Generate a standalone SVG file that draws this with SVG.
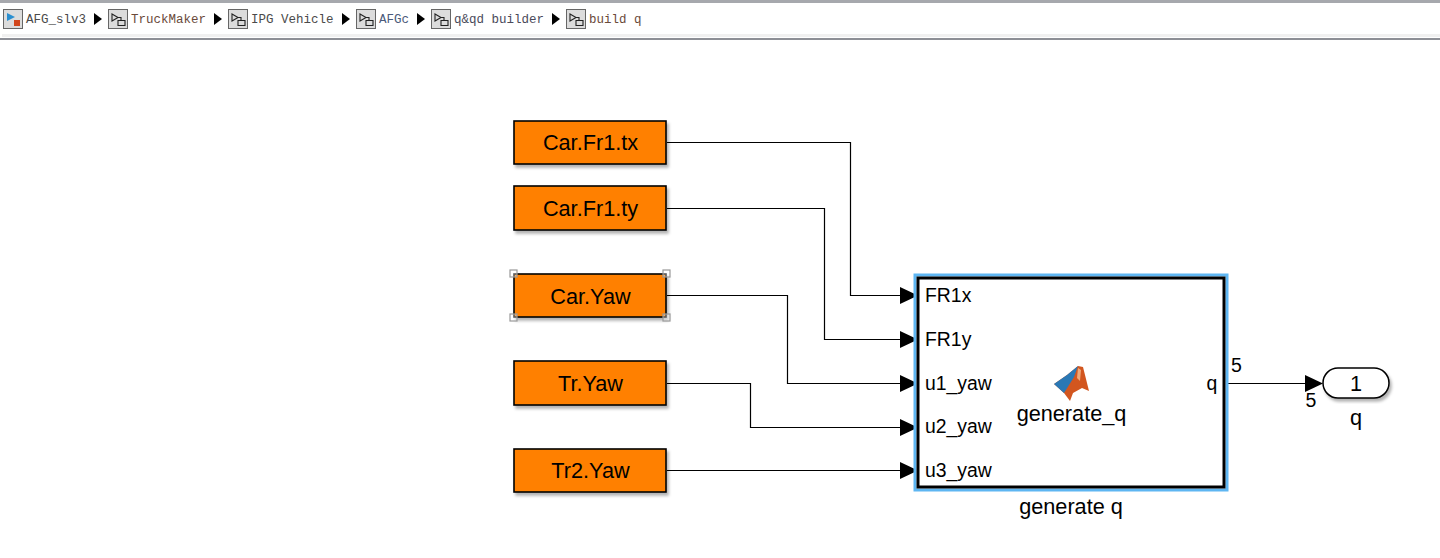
<svg xmlns="http://www.w3.org/2000/svg" width="1440" height="558" viewBox="0 0 1440 558">
<style>
.bar{font-family:"Liberation Mono","DejaVu Sans Mono",monospace;font-size:12.5px;}
.t{font-family:"Liberation Sans",Arial,sans-serif;font-size:21.7px;fill:#000;}
.p{font-size:19.4px;}
.n{font-size:19.5px;}
.m{text-anchor:middle;}
.tag{fill:#ff8000;stroke:#000;stroke-width:1.6;}
.wire{fill:none;stroke:#000;stroke-width:1.2;}
.hd{fill:#000;}
.ic{fill:#dcdcdc;stroke:#666;stroke-width:1;}
.ig{fill:none;stroke:#222;stroke-width:1.1;}
.h{fill:#fff;fill-opacity:.35;stroke:#999;stroke-width:1.2;}
</style>
<defs>
<filter id="sh" x="-10%" y="-20%" width="120%" height="140%"><feDropShadow dx="2" dy="3" stdDeviation="1.5" flood-color="#000" flood-opacity=".3"/></filter>
<g id="sub"><rect class="ic" x="0.5" y="0.5" width="19" height="19"/><path class="ig" d="M4 5v7l6-3.500zM10 8.500h3v3M10 11.500h7v5h-7z"/></g>
<path id="tri" d="M-18-8.500L0 0L-18 8.500z"/>
</defs>
<rect width="1440" height="558" fill="#fff"/>
<g id="breadcrumb">
<rect x="0" y="0" width="1440" height="3" fill="#a6a8ad"/>
<rect x="2" y="34" width="1438" height="3" fill="#f0f0f0"/>
<rect x="0" y="38" width="1440" height="2" fill="#8d8f96"/>
<g transform="translate(3,9)"><rect class="ic" x="0.500" y="0.500" width="19" height="19"/><path d="M4 4l8 4-8 4z" fill="#2a8fd0"/><rect x="11" y="11" width="6" height="6" fill="#d2461c"/></g>
<text class="bar" x="26" y="23" fill="#4a4a4a">AFG_slv3</text>
<path d="M94 13l8 6-8 6z"/>
<use href="#sub" x="108" y="9"/>
<text class="bar" x="131" y="23" fill="#6a4a3a">TruckMaker</text>
<path d="M214 13l8 6-8 6z"/>
<use href="#sub" x="228" y="9"/>
<text class="bar" x="251" y="23" fill="#4a4a4a">IPG Vehicle</text>
<path d="M342 13l8 6-8 6z"/>
<use href="#sub" x="356" y="9"/>
<text class="bar" x="379" y="23" fill="#4a5a7a">AFGc</text>
<path d="M417 13l8 6-8 6z"/>
<use href="#sub" x="431" y="9"/>
<text class="bar" x="454" y="23" fill="#4a4a5a">q&amp;qd builder</text>
<path d="M552 13l8 6-8 6z"/>
<use href="#sub" x="566" y="9"/>
<text class="bar" x="589" y="23" fill="#6a4a3a">build q</text>
</g>
<g id="connectors">
<path class="wire" d="M667 142.500H850.500V295.500H900"/>
<path class="wire" d="M667 208.500H824.500V339.500H900"/>
<path class="wire" d="M667 295.500H787.500V383.500H900"/>
<path class="wire" d="M667 383.500H750.500V427.500H900"/>
<path class="wire" d="M667 470.500H900"/>
<path class="wire" d="M1226 383.500H1306"/>
<use href="#tri" class="hd" x="918" y="295.500"/>
<use href="#tri" class="hd" x="918" y="339.500"/>
<use href="#tri" class="hd" x="918" y="383.500"/>
<use href="#tri" class="hd" x="918" y="427.500"/>
<use href="#tri" class="hd" x="918" y="470.500"/>
<use href="#tri" class="hd" x="1323" y="383.500"/>
<text class="t n" x="1231" y="372">5</text>
<text class="t n" x="1305.500" y="407">5</text>
</g>
<g id="tag-fr1tx"><rect class="tag" filter="url(#sh)" x="514" y="121" width="152" height="43"/><text class="t m" x="590.500" y="150">Car.Fr1.tx</text></g>
<g id="tag-fr1ty"><rect class="tag" filter="url(#sh)" x="514" y="186" width="152" height="44"/><text class="t m" x="590.500" y="216">Car.Fr1.ty</text></g>
<g id="tag-caryaw"><rect class="tag" filter="url(#sh)" x="514" y="274" width="152" height="43"/><text class="t m" x="590.500" y="304">Car.Yaw</text>
<rect class="h" x="510" y="270" width="7" height="7"/><rect class="h" x="663" y="270" width="7" height="7"/><rect class="h" x="510" y="314" width="7" height="7"/><rect class="h" x="663" y="314" width="7" height="7"/></g>
<g id="tag-tryaw"><rect class="tag" filter="url(#sh)" x="514" y="361" width="152" height="44"/><text class="t m" x="590.500" y="391">Tr.Yaw</text></g>
<g id="tag-tr2yaw"><rect class="tag" filter="url(#sh)" x="514" y="449" width="152" height="43"/><text class="t m" x="590.500" y="478">Tr2.Yaw</text></g>
<g id="generate-q">
<rect x="915" y="275" width="312" height="215" fill="#fff" stroke="#5eb6f2" stroke-width="3"/>
<rect x="918" y="278" width="306" height="209" fill="#fff" stroke="#000" stroke-width="3"/>
<path d="M1054 384L1067 375L1078 366L1083 367L1089 391L1082 388L1073 393L1070 401L1064 393z" fill="#d2561f"/>
<path d="M1054 384L1067 375L1078 366L1074 377L1064 393z" fill="#2a78b5"/>
<path d="M1078 368L1081 370L1080 381L1077 378z" fill="#f0a878"/>
<text class="t p" x="925" y="302">FR1x</text>
<text class="t p" x="925" y="346">FR1y</text>
<text class="t p" x="925" y="390">u1_yaw</text>
<text class="t p" x="925" y="433">u2_yaw</text>
<text class="t p" x="925" y="477">u3_yaw</text>
<text class="t p" x="1206.500" y="390">q</text>
<text class="t m" x="1071.500" y="421">generate_q</text>
<text class="t m" x="1071" y="514">generate q</text>
</g>
<g id="outport-q">
<rect x="1323" y="368" width="66" height="30" rx="15" fill="#fff" stroke="#000" stroke-width="1.500" filter="url(#sh)"/>
<text class="t m" x="1356" y="391">1</text>
<text class="t m" x="1356" y="425">q</text>
</g>
</svg>
